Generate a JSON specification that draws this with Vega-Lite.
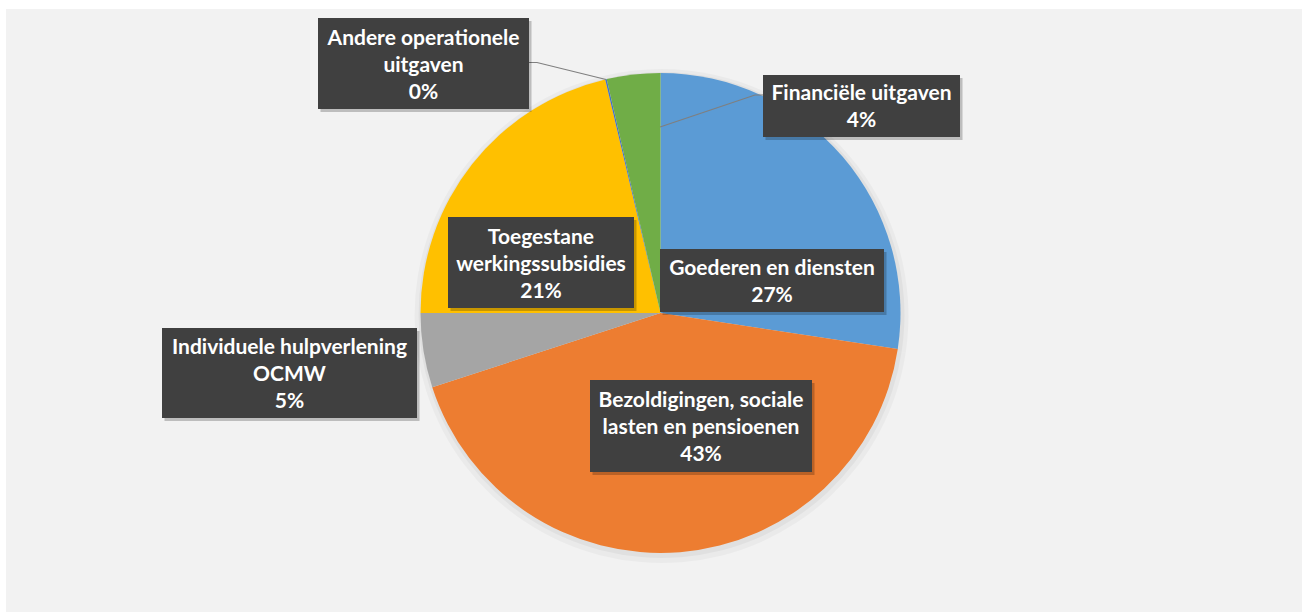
{
  "$schema": "https://vega.github.io/schema/vega-lite/v6.json",
  "width": 1296,
  "height": 603,
  "autosize": {"type": "none"},
  "padding": {"left": 6, "top": 9, "right": 0, "bottom": 0},
  "background": "#ffffff",
  "view": {"fill": "#f2f2f2", "stroke": null},
  "data": {
    "values": [
      {"cat": "Goederen en diensten", "order": 1, "value": 27.4, "label": "Goederen en diensten\n27%"},
      {"cat": "Bezoldigingen, sociale lasten en pensioenen", "order": 2, "value": 42.6, "label": "Bezoldigingen, sociale\nlasten en pensioenen\n43%"},
      {"cat": "Individuele hulpverlening OCMW", "order": 3, "value": 5.0, "label": "Individuele hulpverlening\nOCMW\n5%"},
      {"cat": "Toegestane werkingssubsidies", "order": 4, "value": 21.3, "label": "Toegestane\nwerkingssubsidies\n21%"},
      {"cat": "Andere operationele uitgaven", "order": 5, "value": 0.1, "label": "Andere operationele\nuitgaven\n0%"},
      {"cat": "Financiële uitgaven", "order": 6, "value": 3.6, "label": "Financiële uitgaven\n4%"}
    ]
  },
  "resolve": {"scale": {"shape": "independent"}},
  "layer": [
    {
      "mark": {"type": "arc", "radius": 247, "xOffset": 7.5, "yOffset": 5.5, "color": "#000000", "opacity": 0.03},
      "encoding": {
        "theta": {"field": "value", "type": "quantitative", "stack": true},
        "order": {"field": "order"}
      }
    },
    {
      "mark": {"type": "arc", "radius": 243, "xOffset": 7.5, "yOffset": 4.5, "color": "#000000", "opacity": 0.04},
      "encoding": {
        "theta": {"field": "value", "type": "quantitative", "stack": true},
        "order": {"field": "order"}
      }
    },
    {
      "mark": {"type": "arc", "radius": 240, "xOffset": 6.5, "yOffset": 2.5},
      "encoding": {
        "theta": {"field": "value", "type": "quantitative", "stack": true},
        "order": {"field": "order"},
        "color": {
          "field": "cat",
          "type": "nominal",
          "scale": {
            "domain": ["Goederen en diensten", "Bezoldigingen, sociale lasten en pensioenen", "Individuele hulpverlening OCMW", "Toegestane werkingssubsidies", "Andere operationele uitgaven", "Financiële uitgaven"],
            "range": ["#5B9BD5", "#ED7D31", "#A5A5A5", "#FFC000", "#4472C4", "#70AD47"]
          },
          "legend": null
        }
      }
    },
    {
      "transform": [{"filter": "datum.cat === 'Financiële uitgaven' || datum.cat === 'Andere operationele uitgaven'"}],
      "mark": {"type": "point", "filled": false, "size": 10000, "opacity": 1, "stroke": "#7f7f7f", "strokeWidth": 1.2, "xOffset": 6.5, "yOffset": 2.5},
      "encoding": {
        "shape": {
          "field": "cat",
          "type": "nominal",
          "scale": {
            "domain": ["Andere operationele uitgaven", "Financiële uitgaven"],
            "range": ["M-2.63,-5.01L-2.47,-5.01L-1.09,-4.67", "M-0.01,-3.72L1.89,-4.36L2.05,-4.36"]
          },
          "legend": null
        }
      }
    },
    {
      "mark": {"type": "point", "filled": true, "size": 10000, "opacity": 0.22, "color": "#000000", "strokeWidth": 0, "xOffset": 9, "yOffset": 5.5},
      "encoding": {
        "shape": {
          "field": "cat",
          "type": "nominal",
          "scale": {
            "domain": ["Goederen en diensten", "Bezoldigingen, sociale lasten en pensioenen", "Individuele hulpverlening OCMW", "Toegestane werkingssubsidies", "Andere operationele uitgaven", "Financiële uitgaven"],
            "range": ["M-0.01,-1.28H4.47V-0.02H-0.01Z", "M-1.41,1.34H3.03V3.18H-1.41Z", "M-9.97,0.3H-4.87V2.1H-9.97Z", "M-4.25,-1.92H-0.53V-0.1H-4.25Z", "M-6.85,-5.9H-2.63V-4.08H-6.85Z", "M2.05,-4.76H5.99V-3.52H2.05Z"]
          },
          "legend": null
        }
      }
    },
    {
      "mark": {"type": "point", "filled": true, "size": 10000, "opacity": 1, "color": "#404040", "strokeWidth": 0, "xOffset": 6.5, "yOffset": 2.5},
      "encoding": {
        "shape": {
          "field": "cat",
          "type": "nominal",
          "scale": {
            "domain": ["Goederen en diensten", "Bezoldigingen, sociale lasten en pensioenen", "Individuele hulpverlening OCMW", "Toegestane werkingssubsidies", "Andere operationele uitgaven", "Financiële uitgaven"],
            "range": ["M-0.01,-1.28H4.47V-0.02H-0.01Z", "M-1.41,1.34H3.03V3.18H-1.41Z", "M-9.97,0.3H-4.87V2.1H-9.97Z", "M-4.25,-1.92H-0.53V-0.1H-4.25Z", "M-6.85,-5.9H-2.63V-4.08H-6.85Z", "M2.05,-4.76H5.99V-3.52H2.05Z"]
          },
          "legend": null
        }
      }
    },
    {
      "mark": {"type": "text", "radius": 120, "xOffset": 6.5, "yOffset": 2.5, "dx": 20.5, "dy": 34.4, "font": "Lato", "fontWeight": "bold", "fontSize": 21, "lineHeight": 27, "lineBreak": "\n", "color": "#ffffff", "align": "center", "baseline": "middle"},
      "encoding": {
        "theta": {"field": "value", "type": "quantitative", "stack": true},
        "order": {"field": "order"},
        "text": {"condition": {"test": "datum.cat === 'Goederen en diensten'", "field": "label"}, "value": ""}
      }
    },
    {
      "mark": {"type": "text", "radius": 120, "xOffset": 6.5, "yOffset": 2.5, "dx": 30.7, "dy": -31.6, "font": "Lato", "fontWeight": "bold", "fontSize": 21, "lineHeight": 27, "lineBreak": "\n", "color": "#ffffff", "align": "center", "baseline": "middle"},
      "encoding": {
        "theta": {"field": "value", "type": "quantitative", "stack": true},
        "order": {"field": "order"},
        "text": {"condition": {"test": "datum.cat === 'Bezoldigingen, sociale lasten en pensioenen'", "field": "label"}, "value": ""}
      }
    },
    {
      "mark": {"type": "text", "radius": 120, "xOffset": 6.5, "yOffset": 2.5, "dx": -252.5, "dy": 16.2, "font": "Lato", "fontWeight": "bold", "fontSize": 21, "lineHeight": 27, "lineBreak": "\n", "color": "#ffffff", "align": "center", "baseline": "middle"},
      "encoding": {
        "theta": {"field": "value", "type": "quantitative", "stack": true},
        "order": {"field": "order"},
        "text": {"condition": {"test": "datum.cat === 'Individuele hulpverlening OCMW'", "field": "label"}, "value": ""}
      }
    },
    {
      "mark": {"type": "text", "radius": 120, "xOffset": 6.5, "yOffset": 2.5, "dx": -25.4, "dy": -1.0, "font": "Lato", "fontWeight": "bold", "fontSize": 21, "lineHeight": 27, "lineBreak": "\n", "color": "#ffffff", "align": "center", "baseline": "middle"},
      "encoding": {
        "theta": {"field": "value", "type": "quantitative", "stack": true},
        "order": {"field": "order"},
        "text": {"condition": {"test": "datum.cat === 'Toegestane werkingssubsidies'", "field": "label"}, "value": ""}
      }
    },
    {
      "mark": {"type": "text", "radius": 120, "xOffset": 6.5, "yOffset": 2.5, "dx": -209.7, "dy": -157.3, "font": "Lato", "fontWeight": "bold", "fontSize": 21, "lineHeight": 27, "lineBreak": "\n", "color": "#ffffff", "align": "center", "baseline": "middle"},
      "encoding": {
        "theta": {"field": "value", "type": "quantitative", "stack": true},
        "order": {"field": "order"},
        "text": {"condition": {"test": "datum.cat === 'Andere operationele uitgaven'", "field": "label"}, "value": ""}
      }
    },
    {
      "mark": {"type": "text", "radius": 120, "xOffset": 6.5, "yOffset": 2.5, "dx": 214.5, "dy": -99.8, "font": "Lato", "fontWeight": "bold", "fontSize": 21, "lineHeight": 27, "lineBreak": "\n", "color": "#ffffff", "align": "center", "baseline": "middle"},
      "encoding": {
        "theta": {"field": "value", "type": "quantitative", "stack": true},
        "order": {"field": "order"},
        "text": {"condition": {"test": "datum.cat === 'Financiële uitgaven'", "field": "label"}, "value": ""}
      }
    }
  ]
}
